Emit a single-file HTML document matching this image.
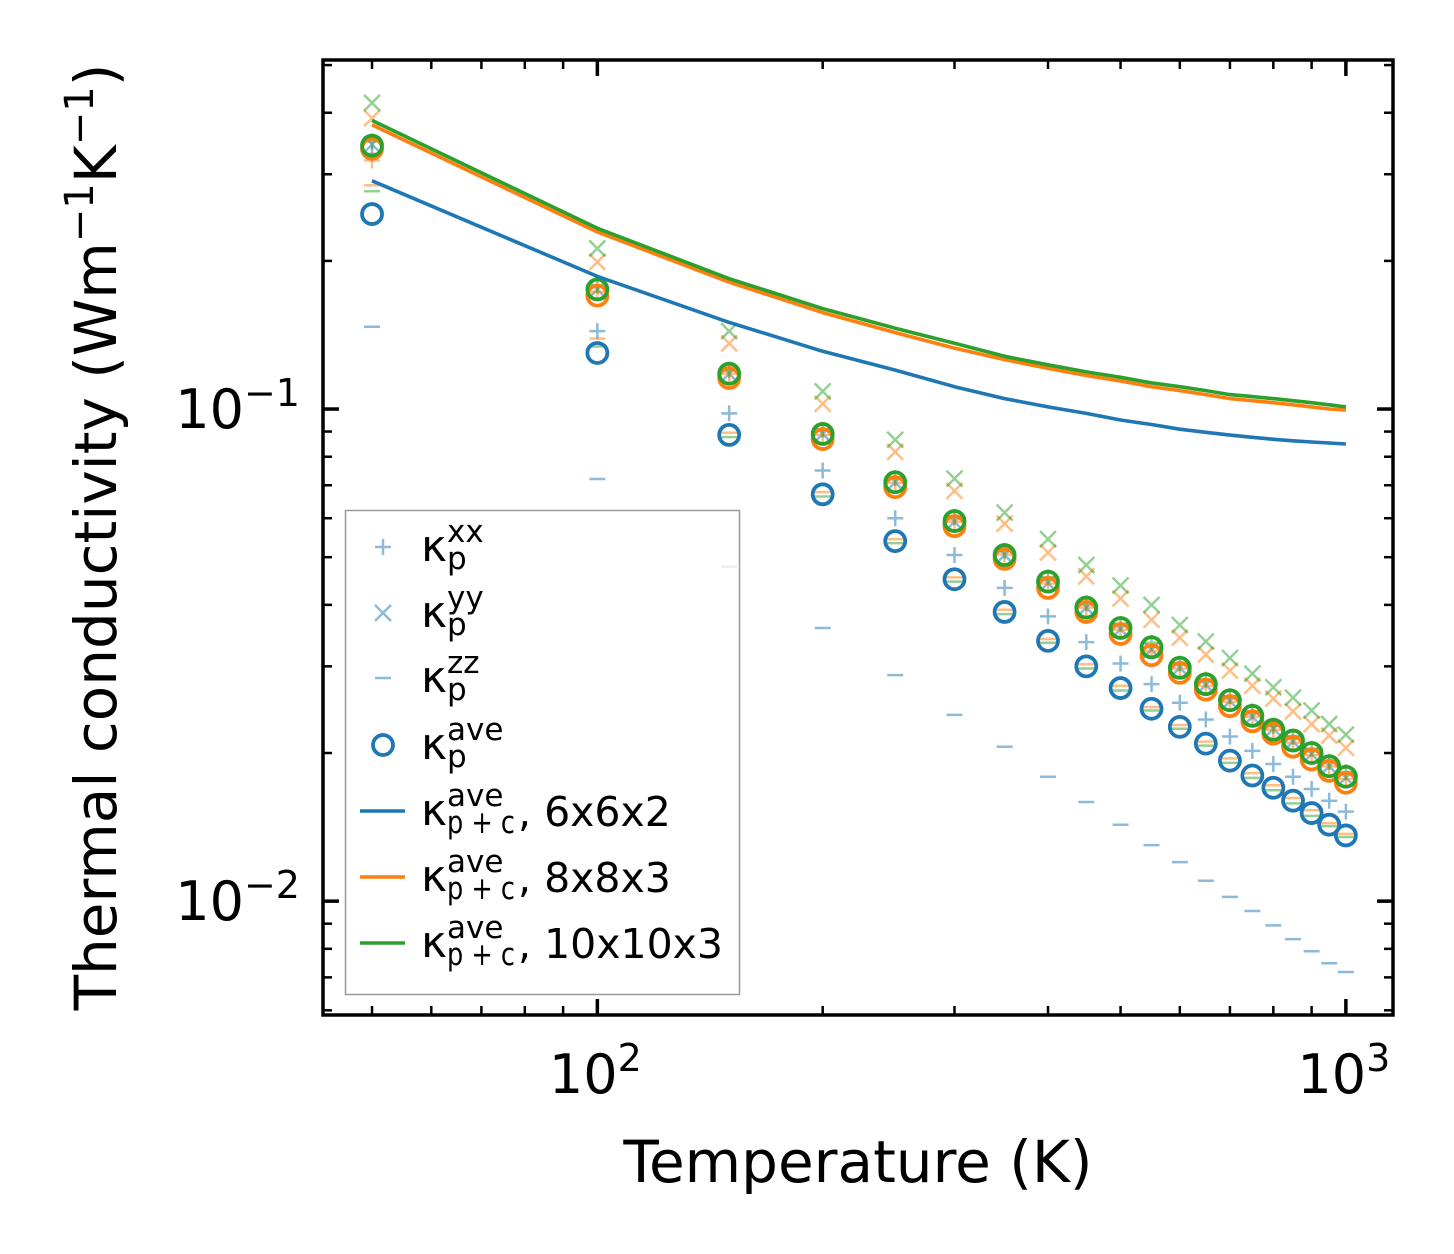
<!DOCTYPE html>
<html><head><meta charset="utf-8"><style>
html,body{margin:0;padding:0;background:#fff;}
svg{display:block;font-family:"DejaVu Sans","Liberation Sans",sans-serif;}
</style></head><body>
<svg id="chart" width="1454" height="1254" viewBox="0 0 1454 1254" xmlns="http://www.w3.org/2000/svg">
<rect width="1454" height="1254" fill="#fff"/>
<g id="marks"></g>
<g id="axes"></g>
<text x="858" y="1182" font-size="58" text-anchor="middle">Temperature (K)</text>
<text transform="translate(116,537) rotate(-90)" font-size="58" text-anchor="middle">Thermal conductivity (Wm<tspan dy="-23" font-size="40">−1</tspan><tspan dy="23">K</tspan><tspan dy="-23" font-size="40">−1</tspan><tspan dy="23">)</tspan></text>
<g id="legend">
<rect x="345.5" y="510.5" width="394" height="484" fill="#fff" fill-opacity="0.8" stroke="#999" stroke-width="1.5"/>
</g>
</svg>
<script>
const temps=[50,100,150,200,250,300,350,400,450,500,550,600,650,700,750,800,850,900,950,1000];
const blueAve=[.249,.130,.0886,.0671,.0539,.0451,.0387,.0338,.0300,.0271,.0246,.0226,.0209,.0193,.0180,.0170,.0160,.0151,.0143,.0136];
const blueXX=[.33,.144,.098,.075,.060,.0505,.0433,.0379,.0336,.0304,.0276,.0253,.0234,.0216,.0202,.0190,.0179,.0169,.0160,.0152];
const blueYY=[.345,.175,.118,.089,.071,.059,.0505,.0443,.0395,.0357,.0324,.0298,.0275,.0255,.0237,.0224,.0211,.0199,.0188,.0178];
const blueZZ=[.147,.0721,.0478,.0359,.0288,.0239,.0206,.0179,.0159,.0143,.0130,.0120,.0110,.0102,.00955,.00893,.00837,.00791,.00748,.00718];
const orangeAve=[.338,.170,.1156,.0869,.0694,.0578,.0496,.0433,.0387,.0349,.0316,.0291,.0269,.0249,.0232,.0219,.0206,.0194,.0184,.0174];
const orangeXX=[.32,.173,.118,.0886,.0708,.059,.0506,.0442,.0395,.0356,.0322,.0297,.0274,.0254,.0237,.0223,.0210,.0198,.0188,.0177];
const orangeYY=[.39,.199,.136,.1025,.0819,.0682,.0585,.0511,.0457,.0412,.0373,.0343,.0317,.0294,.0274,.0258,.0243,.0229,.0217,.0205];
const orangeZZ=[.285,.139,.0895,.0678,.0544,.0455,.0391,.0341,.0303,.0274,.0248,.0228,.0211,.0195,.0182,.0172,.0162,.0153,.0144,.0137];
const greenAve=[.343,.175,.118,.089,.071,.0592,.0505,.0446,.0395,.0359,.0328,.0298,.0276,.0256,.0238,.0223,.0212,.0200,.0188,.0179];
const greenXX=[.35,.178,.120,.0908,.0724,.0604,.0515,.0455,.0403,.0366,.0335,.0304,.0282,.0261,.0243,.0227,.0216,.0204,.0192,.0183];
const greenYY=[.419,.212,.144,.1086,.0866,.0722,.0616,.0544,.0482,.0438,.0400,.0364,.0337,.0312,.0290,.0272,.0259,.0244,.0229,.0218];
const greenZZ=[.277,.134,.0877,.0664,.0534,.0446,.0383,.0335,.0297,.0268,.0244,.0224,.0207,.0191,.0178,.0168,.0158,.0149,.0142,.0135];
const line662=[.291,.186,.150,.131,.120,.111,.105,.101,.098,.095,.093,.091,.0897,.0885,.0876,.0868,.0862,.0857,.0853,.0849];
const line883=[.378,.229,.181,.157,.143,.133,.126,.121,.117,.114,.111,.109,.107,.105,.104,.103,.102,.101,.100,.0995];
const line10103=[.386,.233,.184,.160,.146,.136,.128,.123,.119,.116,.113,.111,.109,.107,.106,.105,.104,.103,.102,.101];
const xTickLabels=["10","10"];const xTickExp=["2","3"];const xTickVals=[100,1000];
const yTickLabels=["10","10"];const yTickExp=["−1","−2"];const yTickVals=[0.1,0.01];

const NS="http://www.w3.org/2000/svg";
const L=323,R=1393,T=60,B=1015;
const xmin=Math.log10(43.0),xmax=Math.log10(1156);
const ymin=Math.log10(0.00587),ymax=Math.log10(0.512);
function X(v){return L+(Math.log10(v)-xmin)/(xmax-xmin)*(R-L);}
function Y(v){return B-(Math.log10(v)-ymin)/(ymax-ymin)*(B-T);}
function mk(tag,attrs,parent){const e=document.createElementNS(NS,tag);for(const k in attrs)e.setAttribute(k,attrs[k]);parent.appendChild(e);return e;}
const marks=document.getElementById('marks');
const C={b:"#1f77b4",o:"#ff7f0e",g:"#2ca02c"};
function plus(x,y,c,p){const g=mk('g',{stroke:c,'stroke-width':2.5,opacity:0.5},p);mk('line',{x1:x-8,y1:y,x2:x+8,y2:y},g);mk('line',{x1:x,y1:y-8,x2:x,y2:y+8},g);return g;}
function cross(x,y,c,p){const g=mk('g',{stroke:c,'stroke-width':2.5,opacity:0.5},p);mk('line',{x1:x-8,y1:y-8,x2:x+8,y2:y+8},g);mk('line',{x1:x-8,y1:y+8,x2:x+8,y2:y-8},g);return g;}
function dash(x,y,c,p){const g=mk('g',{stroke:c,'stroke-width':2.5,opacity:0.5},p);mk('line',{x1:x-8,y1:y,x2:x+8,y2:y},g);return g;}
function circ(x,y,c,p){return mk('circle',{cx:x,cy:y,r:10,fill:'none',stroke:c,'stroke-width':3.8},p);}
const sets=[["blue",C.b,blueXX,blueYY,blueZZ,blueAve],["orange",C.o,orangeXX,orangeYY,orangeZZ,orangeAve],["green",C.g,greenXX,greenYY,greenZZ,greenAve]];
sets.forEach(s=>{
 const [nm,c,xx,yy,zz]=s;
 temps.forEach((t,i)=>{
  let e=plus(X(t),Y(xx[i]),c,marks);
  
  
  e=cross(X(t),Y(yy[i]),c,marks);
  
  
  e=dash(X(t),Y(zz[i]),c,marks);
  
  
 });
});
sets.forEach(s=>{
 const [nm,c,,,,ave]=s;
 temps.forEach((t,i)=>{
  const e=circ(X(t),Y(ave[i]),c,marks);
  
  
 });
});
[["line-6x6x2",C.b,line662],["line-8x8x3",C.o,line883],["line-10x10x3",C.g,line10103]].forEach(l=>{
 const d=temps.map((t,i)=>(i?'L':'M')+X(t).toFixed(1)+' '+Y(l[2][i]).toFixed(1)).join(' ');
 const e=mk('path',{d:d,fill:'none',stroke:l[1],'stroke-width':3.6,'stroke-linejoin':'round'},marks);
 
 
});
const ax=document.getElementById('axes');
const frame=mk('rect',{x:L,y:T,width:R-L,height:B-T,fill:'none',stroke:'#000','stroke-width':3.5},ax);


function tick(x1,y1,x2,y2,w){mk('line',{x1,y1,x2,y2,stroke:'#000','stroke-width':w},ax);}
for(let d=10;d<=1000;d*=10){for(let k=1;k<10;k++){const v=d*k;if(v<43||v>1156)continue;const x=X(v);const maj=k===1;const len=maj?16:9;tick(x,B,x,B-len,maj?3.5:2.5);tick(x,T,x,T+len,maj?3.5:2.5);}}
for(let d=0.001;d<=1;d*=10){for(let k=1;k<10;k++){const v=d*k;if(v<0.00587||v>0.512)continue;const y=Y(v);const maj=k===1;const len=maj?16:9;tick(L,y,L+len,y,maj?3.5:2.5);tick(R,y,R-len,y,maj?3.5:2.5);}}
xTickVals.forEach((v,i)=>{
 const t=mk('text',{x:X(v)-2,y:1093,'font-size':54,'text-anchor':'middle'},ax);
 t.textContent=xTickLabels[i];
 const s=mk('tspan',{dy:-22,'font-size':38},t);s.textContent=xTickExp[i];
 
 
});
yTickVals.forEach((v,i)=>{
 const t=mk('text',{x:300,y:Y(v)+19,'font-size':54,'text-anchor':'end'},ax);
 const a=mk('tspan',{},t);a.textContent=yTickLabels[i];
 const s=mk('tspan',{dy:-22,'font-size':38},t);s.textContent=yTickExp[i];
 
 
});
const lg=document.getElementById('legend');
const rows=[547,613,678,745,811,877,943];
const sups=["xx","yy","zz","ave","ave","ave","ave"];
const subs=["p","p","p","p","p + c","p + c","p + c"];
const tails=["","","","",", 6x6x2",", 8x8x3",", 10x10x3"];
const lnames=["legend-kxx","legend-kyy","legend-kzz","legend-kave","legend-6x6x2","legend-8x8x3","legend-10x10x3"];
rows.forEach((y,i)=>{
 const g=mk('g',{},lg);
 
 
 if(i===0)plus(383,y,C.b,g);else if(i===1)cross(383,y,C.b,g);else if(i===2)dash(383,y,C.b,g);else if(i===3)circ(383,y,C.b,g);
 else mk('line',{x1:360,y1:y,x2:405,y2:y,stroke:[C.b,C.o,C.g][i-4],'stroke-width':3.6},g);
 const k=mk('text',{x:421,y:y+14,'font-size':44},g);k.textContent="κ";
 const sp=mk('text',{x:447,y:y-5,'font-size':31},g);sp.textContent=sups[i];
 const sbAttrs={x:447,y:y+22,'font-size':31};
 if(subs[i].length>1){sbAttrs.textLength=68;sbAttrs.lengthAdjust='spacingAndGlyphs';}
 const sb=mk('text',sbAttrs,g);sb.textContent=subs[i];
 if(tails[i]){const tt=mk('text',{x:518,y:y+15,'font-size':41},g);tt.textContent=tails[i];}
});
</script>
</body></html>
